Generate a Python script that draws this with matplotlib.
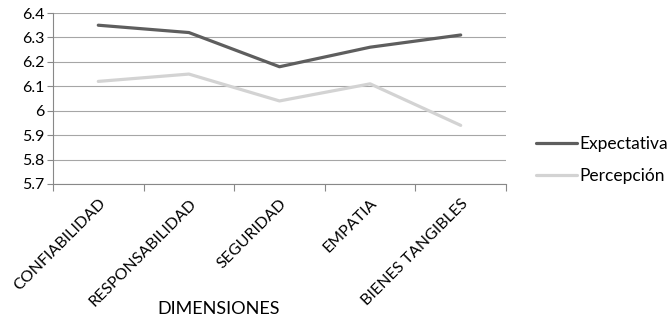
import numpy as np
import matplotlib
matplotlib.use("Agg")
import matplotlib.pyplot as plt
from matplotlib.ticker import FixedLocator, FuncFormatter

plt.rcParams['font.family'] = ['Lato', 'DejaVu Sans']

dimensiones = ["CONFIABILIDAD", "RESPONSABILIDAD", "SEGURIDAD", "EMPATIA", "BIENES TANGIBLES"]
expectativa = [6.35, 6.32, 6.18, 6.26, 6.31]
percepcion = [6.12, 6.15, 6.04, 6.11, 5.94]
y_ticks = [5.7, 5.8, 5.9, 6.0, 6.1, 6.2, 6.3, 6.4]

fig = plt.figure(figsize=(6.68, 3.21), dpi=100)
ax = fig.add_axes([0.0793, 0.4268, 0.6782, 0.5327])

x = np.arange(len(dimensiones))
ax.plot(x, expectativa, color="#5e5e5e", lw=2.3, label="Expectativa", solid_capstyle="round")
ax.plot(x, percepcion, color="#d3d3d3", lw=2.3, label="Percepción", solid_capstyle="round")

ax.set_xlim(-0.5, len(dimensiones) - 0.5)
ax.set_ylim(y_ticks[0], y_ticks[-1])
ax.set_yticks(y_ticks)
ax.yaxis.set_major_formatter(FuncFormatter(lambda v, _: f"{v:g}"))

# category labels centred, tick marks on the boundaries
ax.set_xticks(x)
ax.set_xticklabels(dimensiones, rotation=45, ha="right", rotation_mode="anchor", fontsize=11.5)
ax.tick_params(axis="x", which="major", length=0, pad=9)
ax.xaxis.set_minor_locator(FixedLocator(np.arange(-0.5, len(dimensiones), 1.0)))
ax.tick_params(axis="x", which="minor", length=5, color="#888888", width=0.8)
ax.tick_params(axis="y", length=4, color="#888888", width=0.8, labelsize=11.5, pad=2)

ax.grid(axis="y", color="#a6a6a6", lw=0.8)
ax.set_axisbelow(True)
for side in ("top", "right"):
    ax.spines[side].set_visible(False)
for side in ("left", "bottom"):
    ax.spines[side].set_color("#888888")
    ax.spines[side].set_linewidth(0.8)

ax.set_xlabel("DIMENSIONES", fontsize=13, va="center")
ax.xaxis.set_label_coords(0.365, -0.73)

ax.legend(loc="center left", bbox_to_anchor=(1.032, 0.14), frameon=False,
          fontsize=12.5, handlelength=2.35, handletextpad=0.12, labelspacing=0.95)

fig.savefig("out.png", dpi=100)
